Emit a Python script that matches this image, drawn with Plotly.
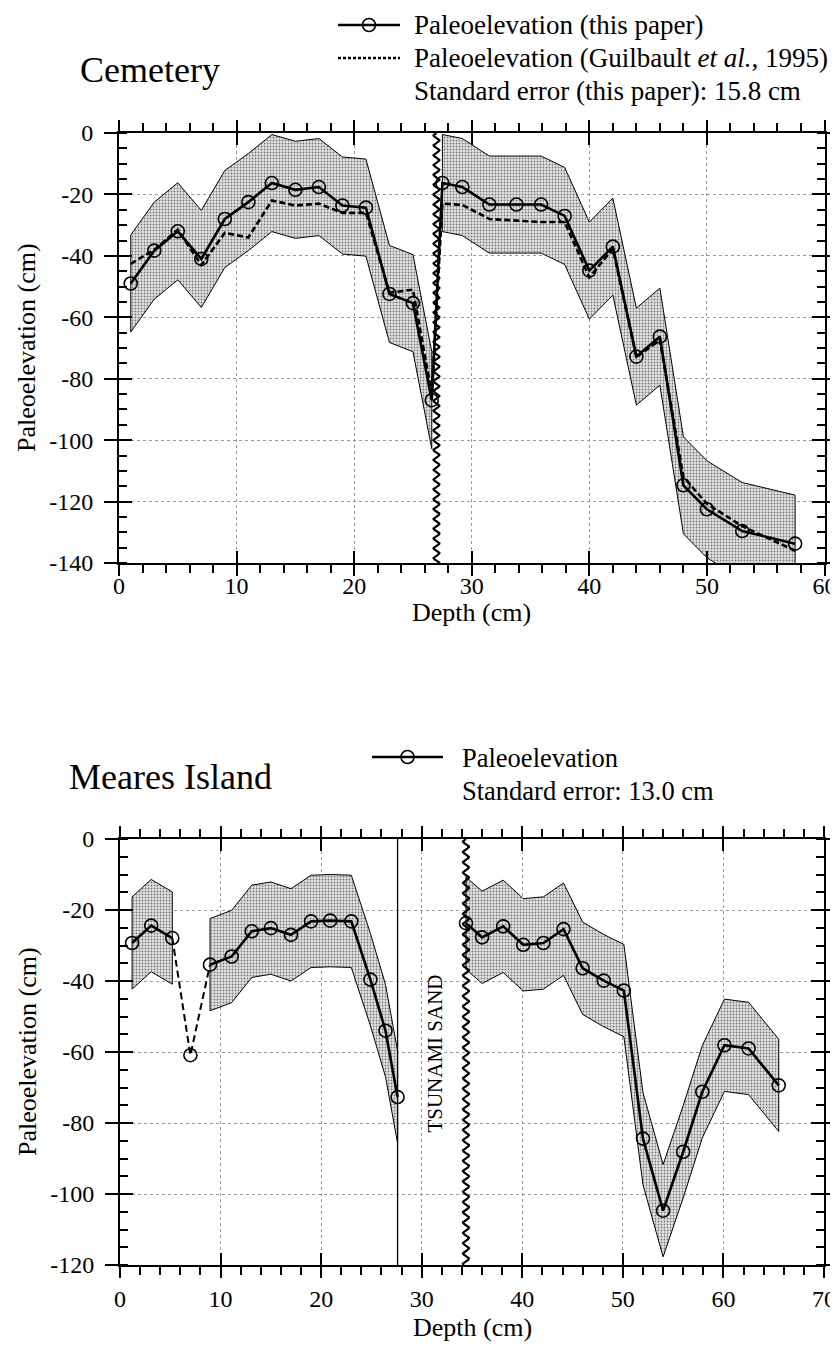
import numpy as np
import plotly.graph_objects as go

# browser body margin (8 px) offsets the figure; size the figure to fit the window
PAGE_W, PAGE_H = 838, 1353
OFF = 8
W, H = PAGE_W - OFF, PAGE_H - 2 * OFF
FONT = "Liberation Serif"

# ---------------- Cemetery data ----------------
cem_depth = [1, 3, 5, 7, 9, 11, 13, 15, 17, 19, 21, 23, 25, 26.6,
             27.5, 29.2, 31.5, 33.8, 35.9, 37.9, 40, 42, 44, 46, 48, 50, 53, 57.5]
cem_this = [-49, -38.3, -32, -41, -28, -22.5, -16.3, -18.5, -17.6, -23.6, -24.3, -52.4, -55.4, -87,
            -16.3, -17.6, -23.3, -23.3, -23.3, -27, -44.8, -37, -72.8, -66.3, -114.7, -122.5, -129.6, -133.7]
cem_guil = [-42.6, -38, -31.5, -43, -32.5, -34, -22, -23.6, -23, -26, -26, -52, -51, -85,
            -23, -23.4, -28, -28.5, -29, -29, -47, -37.7, -73, -67.4, -112, -120.7, -128, -136]
cem_se = 15.8
cem_band_runs = [(0, 13), (14, 27)]
cem_break_depth = 27.0
cem_xticks = [0, 10, 20, 30, 40, 50, 60]
cem_yticks = [0, -20, -40, -60, -80, -100, -120, -140]

# ---------------- Meares Island data ----------------
mea_depth = [1.2, 3.1, 5.2, 7, 8.95, 11.1, 13.1, 15, 17, 19, 20.9, 23, 24.9, 26.4, 27.6,
             34.4, 36, 38.1, 40.1, 42.1, 44.1, 46, 48.1, 50.1, 52, 54, 56, 57.9, 60.1, 62.5, 65.5]
mea_elev = [-29.3, -24.4, -27.9, -60.9, -35.4, -33.1, -26, -25.1, -27, -23.2, -23, -23.2, -39.6, -54, -72.7,
            -23.7, -27.7, -24.6, -29.8, -29.3, -25.4, -36.4, -39.9, -42.7, -84.4, -104.7, -88.1, -71.2, -58.1, -59, -69.4]
mea_se = 13.0
mea_solid_runs = [(0, 2), (4, 14), (15, 30)]
mea_dashed_runs = [(2, 4)]
mea_band_runs = [(0, 2), (4, 14), (15, 30)]
mea_sand_base = 27.6
mea_break_depth = 34.4
mea_sand_label_depth = 31.3
mea_sand_label_elev = -60.5
mea_xticks = [0, 10, 20, 30, 40, 50, 60, 70]
mea_yticks = [0, -20, -40, -60, -80, -100, -120]

# ---------------- layout geometry (page pixels) ----------------
TOP = dict(x0=119, x1=824.5, y0=133, y1=563)
BOT = dict(x0=120, x1=824, y0=839, y1=1265)


def px(x):
    return (x - OFF) / W


def py(y):
    return 1 - (y - OFF) / H


fig = go.Figure()

BAND_FILL = dict(shape=".", bgcolor="#e4e4e4", fgcolor="#787878", size=3, solidity=0.3)


def add_band(depth, val, se, runs, xa, ya):
    for a, b in runs:
        d = depth[a:b + 1]
        v = val[a:b + 1]
        up = [x + se for x in v]
        lo = [x - se for x in v]
        fig.add_trace(go.Scatter(
            x=d + d[::-1] + [d[0]], y=up + lo[::-1] + [up[0]],
            mode="lines", fill="toself", fillcolor="#d6d6d6",
            fillpattern=BAND_FILL,
            line=dict(color="black", width=1), xaxis=xa, yaxis=ya,
            showlegend=False, hoverinfo="skip"))


def add_wave(xb, ytop, ybot, amp, period, xa, ya):
    yy = np.linspace(ytop, ybot, 1200)
    xx = xb + amp * np.sin(2 * np.pi * (yy - ytop) / period)
    fig.add_trace(go.Scatter(x=xx, y=yy, mode="lines", line=dict(color="black", width=2.2),
                             xaxis=xa, yaxis=ya, showlegend=False, hoverinfo="skip"))


# ---- Cemetery traces ----
add_band(cem_depth, cem_this, cem_se, cem_band_runs, "x", "y")
fig.add_trace(go.Scatter(x=cem_depth, y=cem_guil, mode="lines",
                         line=dict(color="black", width=2.6, dash="6px,3px"),
                         xaxis="x", yaxis="y", showlegend=False))
fig.add_trace(go.Scatter(x=cem_depth, y=cem_this, mode="lines+markers",
                         line=dict(color="black", width=2.6),
                         marker=dict(symbol="circle-open", size=13, color="black", line=dict(width=1.6)),
                         xaxis="x", yaxis="y", showlegend=False))
add_wave(cem_break_depth, 0, -140, 0.25, 3.2, "x", "y")

# ---- Meares traces ----
add_band(mea_depth, mea_elev, mea_se, mea_band_runs, "x2", "y2")
sx, sy = [], []
for a, b in mea_solid_runs:
    sx += mea_depth[a:b + 1] + [None]
    sy += mea_elev[a:b + 1] + [None]
fig.add_trace(go.Scatter(x=sx, y=sy, mode="lines", line=dict(color="black", width=2.6),
                         xaxis="x2", yaxis="y2", showlegend=False, connectgaps=False))
dx, dy = [], []
for a, b in mea_dashed_runs:
    dx += mea_depth[a:b + 1] + [None]
    dy += mea_elev[a:b + 1] + [None]
fig.add_trace(go.Scatter(x=dx, y=dy, mode="lines", line=dict(color="black", width=2, dash="7px,4px"),
                         xaxis="x2", yaxis="y2", showlegend=False))
fig.add_trace(go.Scatter(x=mea_depth, y=mea_elev, mode="markers",
                         marker=dict(symbol="circle-open", size=13, color="black", line=dict(width=1.6)),
                         xaxis="x2", yaxis="y2", showlegend=False))
fig.add_trace(go.Scatter(x=[mea_sand_base, mea_sand_base], y=[0, mea_yticks[-1]], mode="lines",
                         line=dict(color="black", width=1.3), xaxis="x2", yaxis="y2",
                         showlegend=False, hoverinfo="skip"))
add_wave(mea_break_depth, 0, -120, 0.3, 2.9, "x2", "y2")

# dummy traces for overlay tick axes (inner half of the crossing major ticks)
fig.add_trace(go.Scatter(x=[None], y=[None], xaxis="x3", yaxis="y3", showlegend=False))
fig.add_trace(go.Scatter(x=[None], y=[None], xaxis="x4", yaxis="y4", showlegend=False))

TICKFONT = dict(family=FONT, size=24, color="black")


def main_x(box, rng, ticks, anchor, standoff=0):
    return dict(domain=[px(box["x0"]), px(box["x1"])], range=rng, anchor=anchor, automargin=False,
                tickmode="array", tickvals=ticks, ticktext=[str(t) for t in ticks],
                ticks="outside", ticklen=11, tickwidth=2, tickcolor="black",
                minor=dict(ticks="outside", ticklen=8, tickwidth=1.6, dtick=2, tick0=0,
                           tickcolor="black", showgrid=False),
                showline=True, linewidth=2, linecolor="black", mirror="allticks",
                showgrid=True, gridcolor="#9a9a9a", griddash="dot", gridwidth=1,
                zeroline=False, tickfont=TICKFONT, ticklabelstandoff=standoff, fixedrange=True)


def main_y(box, rng, ticks, anchor):
    return dict(domain=[py(box["y1"]), py(box["y0"])], range=rng, anchor=anchor, automargin=False,
                tickmode="array", tickvals=ticks, ticktext=[str(t) for t in ticks],
                ticks="outside", ticklen=13, tickwidth=2, tickcolor="black",
                minor=dict(ticks="inside", ticklen=8, tickwidth=1.6, dtick=5, tick0=0,
                           tickcolor="black", showgrid=False),
                showline=True, linewidth=2, linecolor="black", mirror="allticks",
                showgrid=True, gridcolor="#9a9a9a", griddash="dot", gridwidth=1,
                zeroline=False, tickfont=TICKFONT, ticklabelstandoff=6, fixedrange=True)


def over_x(box, rng, ticks, over, anchor):
    return dict(domain=[px(box["x0"]), px(box["x1"])], range=rng, overlaying=over, anchor=anchor,
                automargin=False,
                tickmode="array", tickvals=ticks, ticks="inside", ticklen=12, tickwidth=2,
                tickcolor="black", mirror="allticks", showline=False, showgrid=False,
                showticklabels=False, zeroline=False, fixedrange=True)


def over_y(box, rng, ticks, over, anchor):
    return dict(domain=[py(box["y1"]), py(box["y0"])], range=rng, overlaying=over, anchor=anchor,
                automargin=False,
                tickmode="array", tickvals=ticks, ticks="inside", ticklen=13, tickwidth=2,
                tickcolor="black", mirror="allticks", showline=False, showgrid=False,
                showticklabels=False, zeroline=False, fixedrange=True)


fig.update_layout(
    template="none",
    width=W, height=H, margin=dict(l=0, r=0, t=0, b=0, autoexpand=False),
    paper_bgcolor="white", plot_bgcolor="white",
    font=dict(family=FONT, color="black"),
    showlegend=False,
    xaxis=main_x(TOP, [0, 60], cem_xticks, "y", standoff=-11),
    yaxis=main_y(TOP, [-140, 0], cem_yticks, "x"),
    xaxis2=main_x(BOT, [0, 70], mea_xticks, "y2"),
    yaxis2=main_y(BOT, [-120, 0], mea_yticks, "x2"),
    xaxis3=over_x(TOP, [0, 60], cem_xticks, "x", "y3"),
    yaxis3=over_y(TOP, [-140, 0], cem_yticks, "y", "x3"),
    xaxis4=over_x(BOT, [0, 70], mea_xticks, "x2", "y4"),
    yaxis4=over_y(BOT, [-120, 0], mea_yticks, "y2", "x4"),
)

ann = []


def text(x, y, s, size, xanchor="left", angle=0, ref=None):
    d = dict(text=s, showarrow=False, font=dict(family=FONT, size=size, color="black"),
             xanchor=xanchor, yanchor="middle", textangle=angle)
    if ref is None:
        d.update(x=px(x), y=py(y), xref="paper", yref="paper")
    else:
        d.update(x=x, y=y, xref=ref[0], yref=ref[1])
    ann.append(d)


# titles
text(78, 70, "Cemetery", 36)
text(67, 777, "Meares Island", 36)
# axis titles
text((TOP["x0"] + TOP["x1"]) / 2, 612, "Depth (cm)", 26, xanchor="center")
text((BOT["x0"] + BOT["x1"]) / 2, 1327, "Depth (cm)", 26, xanchor="center")
text(27, (TOP["y0"] + TOP["y1"]) / 2, "Paleoelevation (cm)", 26, xanchor="center", angle=-90)
text(27, (BOT["y0"] + BOT["y1"]) / 2, "Paleoelevation (cm)", 26, xanchor="center", angle=-90)
# legends
text(412, 25, "Paleoelevation (this paper)", 27)
text(412, 58, "Paleoelevation (Guilbault <i>et al.</i>, 1995)", 27)
text(412, 91, "Standard error (this paper): %.1f cm" % cem_se, 27)
text(460, 758, "Paleoelevation", 26.5)
text(460, 791, "Standard error: %.1f cm" % mea_se, 26.5)
# tsunami sand label
text(mea_sand_label_depth, mea_sand_label_elev, "TSUNAMI SAND", 21, xanchor="center", angle=-90,
     ref=("x2", "y2"))
fig.update_layout(annotations=ann)

shapes = []


def legend_line(x0, x1, y, dash="solid", circle=True):
    shapes.append(dict(type="line", xref="paper", yref="paper", x0=px(x0), x1=px(x1), y0=py(y), y1=py(y),
                       line=dict(color="black", width=2.4, dash=dash)))
    if circle:
        xc = (x0 + x1) / 2
        shapes.append(dict(type="circle", xref="paper", yref="paper", xsizemode="pixel", ysizemode="pixel",
                           xanchor=px(xc), yanchor=py(y), x0=-6.5, x1=6.5, y0=-6.5, y1=6.5,
                           line=dict(color="black", width=1.6)))


legend_line(338, 400, 25)
legend_line(338, 400, 58, dash="3px,2px", circle=False)
legend_line(372, 443, 757)
fig.update_layout(shapes=shapes)

fig.write_html("out.html")
